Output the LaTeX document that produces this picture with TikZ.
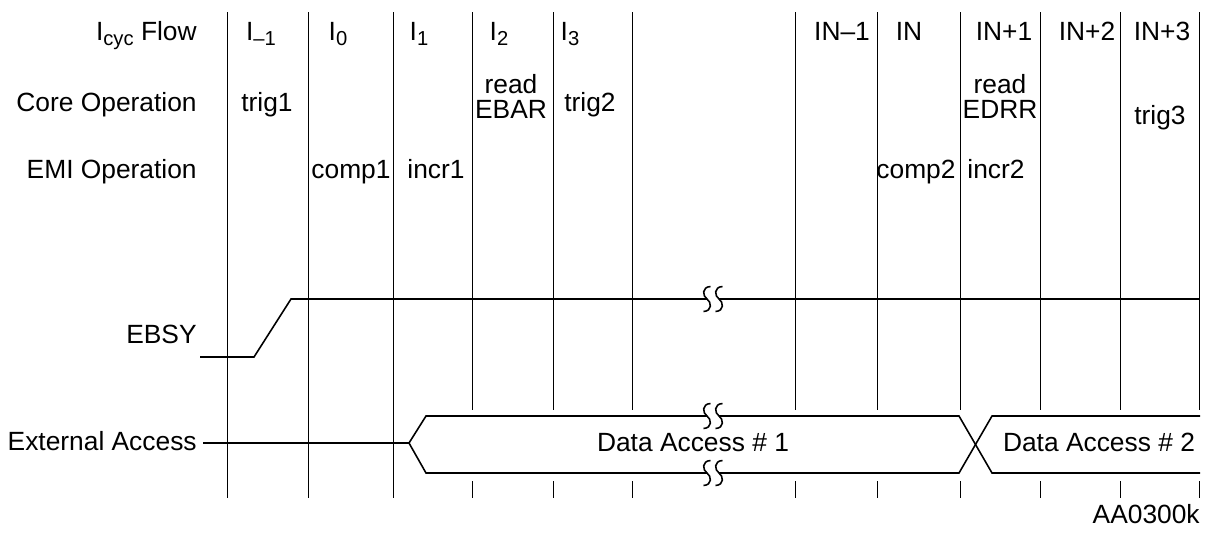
\documentclass[tikz,border=0pt]{standalone}
\usepackage{fontspec}
\setmainfont{Liberation Sans}
\newcommand{\cycsub}[1]{\raisebox{-3pt}{\fontsize{11.5}{11.5}\selectfont #1}}

\begin{document}
\begin{tikzpicture}[x=0.02cm, y=-0.02cm, font=\fontsize{15}{14}\selectfont,
	rowlabel/.style={anchor=base east, inner sep=0pt},
	cell/.style={anchor=base, inner sep=0pt, align=center},
	wave/.style={line width=0.9pt},
	tick/.style={line width=0.45pt},
	brk/.pic={\draw[wave] (3.5,-12.5) .. controls (-5.5,-12) and (-4.5,-3) .. (0,0) .. controls (4.5,3) and (5.5,12) .. (-3.5,12.5);}]
			\useasboundingbox (0,0) rectangle (1210,535);
			\foreach \x in {227.5, 308.5, 393.3}
				\draw[tick] (\x,12) -- (\x,498);
			\foreach \x in {472, 553.5, 632.5, 795.5, 877, 960, 1040, 1120, 1199}
				{\draw[tick] (\x,12) -- (\x,410); \draw[tick] (\x,481) -- (\x,498);}
			\node[rowlabel] (flow) at (197, 40) {I\cycsub{cyc} Flow};
			\node[rowlabel] (core) at (197, 111) {Core Operation};
			\node[rowlabel] (emi) at (197, 178) {EMI Operation};
			\node[rowlabel] (ebsy) at (197, 343) {EBSY};
			\node[rowlabel] (ext) at (197, 450) {External Access};
			\node[cell] (Im1) at (261, 40) {I\cycsub{–1}};
			\node[cell] (I0) at (338, 40) {I\cycsub{0}};
			\node[cell] (I1) at (419, 40) {I\cycsub{1}};
			\node[cell] (I2) at (499, 40) {I\cycsub{2}};
			\node[cell] (I3) at (570, 40) {I\cycsub{3}};
			\node[cell] (INm1) at (842, 40) {IN–1};
			\node[cell] (IN) at (909, 40) {IN};
			\node[cell] (INp1) at (1004, 40) {IN+1};
			\node[cell] (INp2) at (1087, 40) {IN+2};
			\node[cell] (INp3) at (1162, 40) {IN+3};
			\node[cell] (trig1) at (267, 111) {trig1};
			\node[cell] (rdEBAR) at (511, 118) {read\\EBAR};
			\node[cell] (trig2) at (590, 111) {trig2};
			\node[cell] (rdEDRR) at (1000, 118) {read\\EDRR};
			\node[cell] (trig3) at (1160, 124) {trig3};
			\node[cell] (comp1) at (351, 178) {comp1};
			\node[cell] (incr1) at (436, 178) {incr1};
			\node[cell] (comp2) at (916, 178) {comp2};
			\node[cell] (incr2) at (996, 178) {incr2};
			\draw[wave] (200,357) -- (254,357) -- (291,299) -- (707,299);
			\draw[wave] (719,299) -- (1200,299);
			\coordinate (busA) at (409,443);
			\coordinate (busX) at (975.5,444.5);
			\draw[wave] (203,443) -- (busA);
			\draw[wave] (busA) -- (426,416) -- (707,416) (719,416) -- (959,416) -- (busX) -- (992,473) -- (1200,473);
			\draw[wave] (busA) -- (426,473) -- (707,473) (719,473) -- (959,473) -- (busX) -- (992,416) -- (1200,416);
			\foreach \y in {299, 416, 473}
				{\pic at (707,\y) {brk}; \pic at (719,\y) {brk};}
			\node[cell] (da1) at (693, 451) {Data Access \# 1};
			\node[cell] (da2) at (1099, 451) {Data Access \# 2};
			\node[rowlabel] (figid) at (1200, 523) {AA0300k};
\end{tikzpicture}
\end{document}
